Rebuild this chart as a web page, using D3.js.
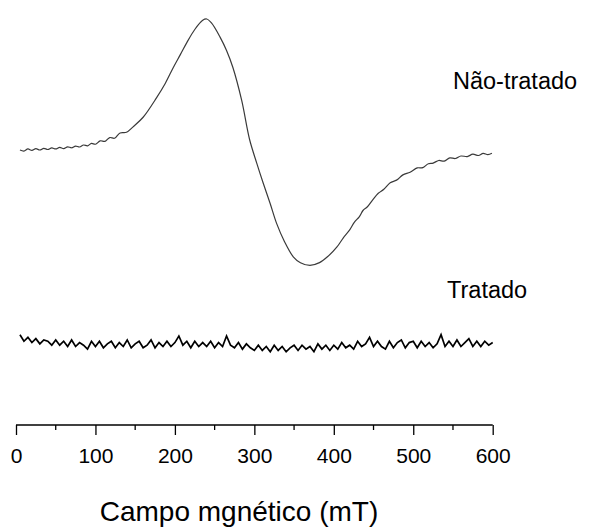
<!DOCTYPE html>
<html>
<head>
<meta charset="utf-8">
<script src="https://cdn.jsdelivr.net/npm/d3@7"></script>
<style>
  html, body { margin: 0; padding: 0; background: #fff; }
  svg { display: block; font-family: "Liberation Sans", Arial, Helvetica, sans-serif; }
</style>
</head>
<body>
<svg id="chart" width="592" height="532"></svg>
<script>
// Magnetic field (mT) and EPR signal (arbitrary units) for the untreated sample
const fieldNaoTratado = [
  5, 10, 15, 20, 25, 30, 35, 40, 45, 50, 55, 60, 65, 70, 75, 80, 85, 90, 95, 100,
  106, 112, 118, 124, 131, 139, 147, 160, 177, 188, 198, 207, 215, 225, 235, 240,
  246, 257, 265, 273, 284, 294, 303, 311, 320, 328, 338, 349, 358, 370, 382, 393,
  404, 412, 420, 426, 432, 437, 442, 449, 456, 463, 471, 479, 487, 496, 505, 512,
  519, 525, 532, 539, 546, 553, 560, 568, 575, 582, 588, 594, 599
];
const sinalNaoTratado = [
  0, -0.8, 0.8, -0.3, 1, 0, 1.3, 0.4, 1.6, 0.8, 2, 1.1, 2.4, 1.7, 3, 2.3, 3.8, 3.2, 5, 4.4,
  7, 6.6, 9.5, 9, 13, 13.5, 17.5, 25, 40, 51, 63, 73, 82, 92, 99, 100,
  97, 86, 76, 63, 38, 8, -10, -25, -41, -56, -70, -81.5, -86, -88, -86, -81,
  -74, -67, -61, -55, -51, -46, -43.5, -38, -33, -30, -25, -23, -19, -17, -13.7, -13.5,
  -10.5, -10, -8, -8.5, -6, -6.5, -4.6, -5, -3.2, -4.2, -2.6, -3.6, -2.5
];

// Treated sample: signal sampled every 5 mT starting at 5 mT
const campoInicioTratado = 5;
const passoTratado = 5;
const sinalTratado = [
  -141, -146, -143, -147, -144, -148, -145, -146, -149, -145,
  -149, -146, -150, -145, -150, -147, -149, -152, -146, -150,
  -146, -151, -148, -146, -151, -147, -150, -145, -151, -148,
  -146, -151, -149, -145, -151, -147, -150, -146, -150, -147,
  -142, -149, -146, -151, -146, -150, -147, -150, -146, -151,
  -147, -150, -142, -149, -151, -147, -152, -148, -151, -153,
  -149, -153, -150, -154, -149, -153, -150, -154, -151, -149,
  -153, -149, -152, -150, -154, -148, -152, -149, -153, -149,
  -152, -147, -151, -149, -152, -146, -150, -148, -143, -150,
  -146, -150, -152, -146, -151, -147, -145, -151, -147, -146,
  -151, -146, -150, -147, -151, -148, -141, -150, -146, -150,
  -145, -150, -147, -144, -150, -146, -150, -146, -149, -147
];

// Axis ticks
const majorTicks = [0, 100, 200, 300, 400, 500, 600];
const minorTicks = [50, 150, 250, 350, 450, 550];

const rotulos = { naoTratado: "Não-tratado", tratado: "Tratado", eixoX: "Campo mgnético (mT)" };

const svg = d3.select("#chart");

const x = d3.scaleLinear().domain([0, 600]).range([16, 492.7]);
const y = d3.scaleLinear().domain([-150, 100]).range([346.5, 19]);

const dadosNaoTratado = fieldNaoTratado.map((f, i) => [f, sinalNaoTratado[i]]);
const dadosTratado = sinalTratado.map((v, i) => [campoInicioTratado + i * passoTratado, v]);

const linhaSuave = d3.line().x(d => x(d[0])).y(d => y(d[1])).curve(d3.curveCatmullRom);
const linhaRuido = d3.line().x(d => x(d[0])).y(d => y(d[1]));

svg.append("path")
  .attr("d", linhaSuave(dadosNaoTratado))
  .attr("fill", "none")
  .attr("stroke", "#3a3a3a")
  .attr("stroke-width", 1.2);

svg.append("path")
  .attr("d", linhaRuido(dadosTratado))
  .attr("fill", "none")
  .attr("stroke", "#000")
  .attr("stroke-width", 1.7);

// Bottom axis
const axisY = 425;
const gx = svg.append("g").attr("transform", `translate(0,${axisY})`);
gx.call(d3.axisBottom(x).tickValues(majorTicks).tickSize(10).tickPadding(13).tickFormat(d3.format("d")));
gx.select(".domain").attr("stroke", "#000").attr("stroke-width", 1.3).attr("d", `M${x(0)},0H${x(600)}`);
gx.selectAll(".tick line").attr("stroke", "#000").attr("stroke-width", 1.3);
gx.selectAll(".tick text").attr("font-size", 21).attr("fill", "#000")
  .attr("font-family", "Liberation Sans, Arial, sans-serif");

gx.selectAll(".minor").data(minorTicks).enter().append("line")
  .attr("class", "minor")
  .attr("x1", d => x(d)).attr("x2", d => x(d))
  .attr("y1", 0).attr("y2", 5)
  .attr("stroke", "#000").attr("stroke-width", 1.3);

// Labels
svg.append("text").attr("x", 453).attr("y", 89).attr("font-size", 23.5).text(rotulos.naoTratado);
svg.append("text").attr("x", 447).attr("y", 298).attr("font-size", 23.5).text(rotulos.tratado);
svg.append("text").attr("x", 239).attr("y", 521).attr("font-size", 28).attr("text-anchor", "middle").text(rotulos.eixoX);
</script>
</body>
</html>
